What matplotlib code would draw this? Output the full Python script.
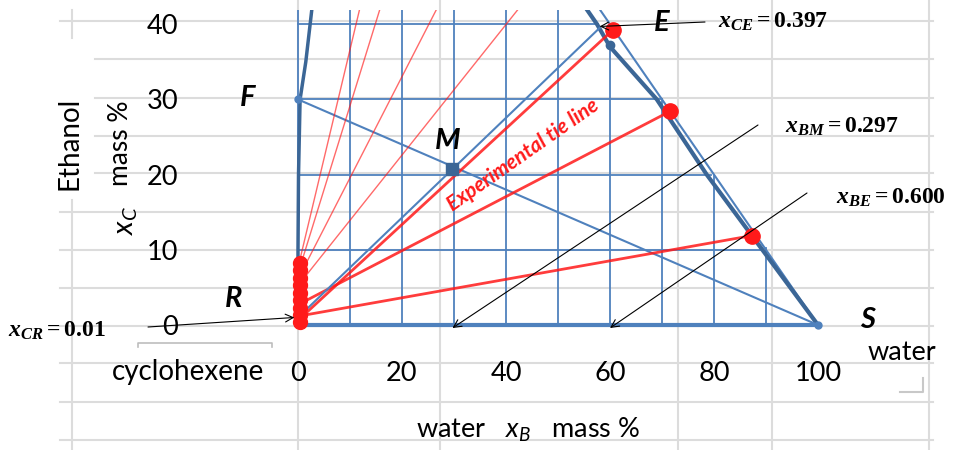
import matplotlib.pyplot as plt
import numpy as np

plt.rcParams['font.family'] = ['Lato', 'DejaVu Sans']
plt.rcParams['mathtext.fontset'] = 'custom'
plt.rcParams['mathtext.rm'] = 'Liberation Serif:bold'
plt.rcParams['mathtext.it'] = 'Liberation Serif:italic:bold'
plt.rcParams['mathtext.bf'] = 'Liberation Serif:bold'
plt.rcParams['mathtext.sf'] = 'Lato:italic'

# ---- data (mass %) ----
x_ticks = [0, 20, 40, 60, 80, 100]
y_ticks = [0, 10, 20, 30, 40]

# blue helper grid inside the triangle
grid_x = [0, 10, 20, 30, 40, 50, 60, 70, 80, 90]
grid_x_top = [44, 44, 44, 44, 44, 44, 37.2, 29.8, 19.8, 10.2]
grid_y = [0, 10, 20, 30, 40]
grid_y_end = [100, 89.5, 79.5, 70, 57.7]

# binodal curve, raffinate side and extract side
raff_x = [0, 0, 0.1, 0.4, 1.5, 3.0]
raff_y = [0, 10, 20, 30, 35, 44]
ext_x = [100, 89.3, 78.6, 69.0, 60.0, 57.5, 53.5]
ext_y = [0, 10, 20, 30, 37, 40, 44]

# hypotenuse x_B + x_C = 100
hyp_x = [100, 56]
hyp_y = [0, 44]

# feed, solvent, mixture, raffinate, extract
F = (0, 30)
S = (100, 0)
M = (29.7, 20.8)
R = (0, 1)
E_calc = (58, 39.5)
E_bin = (60, 37.2)
x_CR, x_BM, x_BE, x_CE = 0.01, 0.297, 0.600, 0.397

# experimental tie lines: raffinate end (x=0) -> extract end
tie_r_y = [8.5, 7.5, 6.5, 5.5, 0.8, 2.8, 1.2]
tie_e_x = [12.2, 16.2, 27.4, 43.5, 60.5, 71.5, 87.4]
tie_e_y = [43, 43, 43, 43, 39.2, 28.4, 11.9]
tie_bold = [False, False, False, False, True, True, True]
raff_pts_y = [0.4, 1.3, 2.3, 3.3, 4.3, 5.3, 6.3, 7.3, 8.3]

blue = '#4f81bd'
dblue = '#3b6696'
red = '#ff1a1a'
W, H = 954, 450

fig = plt.figure(figsize=(W / 100, H / 100), dpi=100)

# spreadsheet cells behind the (transparent) chart
bg = fig.add_axes([0, 0, 1, 1], zorder=0)
bg.set_xlim(0, W)
bg.set_ylim(H, 0)
bg.axis('off')
rows = [21, 59, 98, 136, 173, 212, 250, 288, 326, 363, 402, 440]
row_start = [60, 95, 95, 95, 95, 60, 60, 60, 60, 60, 60, 60]
for r, s in zip(rows, row_start):
    bg.plot([s, 933], [r, r], color='#dcdcdc', lw=1.5)
for c in [298, 440, 678, 772, 929]:
    bg.plot([c, c], [0, H], color='#dcdcdc', lw=1.5)
bg.plot([72, 72], [10, 38], color='#dcdcdc', lw=1.5)
bg.plot([72, 72], [200, H], color='#dcdcdc', lw=1.5)
bg.plot([138, 138, 272, 272], [347, 343, 343, 347], color='#bdbdbd', lw=1.2)
bg.plot([900, 923, 923], [392, 392, 378], color='#c8c8c8', lw=1.5)

ax = fig.add_axes([288 / W, 1 - 332 / H, 540 / W, 322 / H], zorder=1)
ax.set_facecolor('none')
ax.set_xlim(-10 / 5.2, 100 + 10 / 5.2)
ax.set_ylim(-7 / 7.52, 315 / 7.52)
for sp in ax.spines.values():
    sp.set_visible(False)

for gx, top in zip(grid_x, grid_x_top):
    ax.plot([gx, gx], [0, top], color=blue, lw=1.3, zorder=2)
for gy, end in zip(grid_y, grid_y_end):
    ax.plot([0, end], [gy, gy], color=blue, lw=3 if gy == 0 else 1.3, zorder=2)

ax.plot(hyp_x, hyp_y, color=blue, lw=1.5, zorder=3)
ax.plot(ext_x, ext_y, color=dblue, lw=3, zorder=3)
ax.plot(raff_x, raff_y, color=dblue, lw=2.5, zorder=3)

ax.plot([F[0], S[0]], [F[1], S[1]], color=blue, lw=1.5, zorder=3)
ax.plot([R[0], E_calc[0]], [R[1], E_calc[1]], color=blue, lw=1.5, zorder=5)
ax.plot(*F, 'o', color=blue, ms=5, zorder=6)
ax.plot(*S, 'o', color=blue, ms=5, zorder=6)
ax.plot(*M, 's', color=dblue, ms=8, zorder=6)
ax.plot(*E_bin, 'o', color=dblue, ms=6, zorder=6)

for ry, ex, ey, b in zip(tie_r_y, tie_e_x, tie_e_y, tie_bold):
    ax.plot([0.3, ex], [ry, ey], color=red, lw=2 if b else 1,
            alpha=0.85 if b else 0.65, zorder=4)
ax.plot([0.3] * len(raff_pts_y), raff_pts_y, 'o', color=red, ms=10, zorder=5)
ax.plot(tie_e_x[4:], tie_e_y[4:], 'o', color=red, ms=11, zorder=5)

ax.set_xticks(x_ticks)
ax.set_yticks(y_ticks)
ax.tick_params(length=0, labelsize=19.5, colors='black')
ax.tick_params(axis='x', pad=21)
ax.tick_params(axis='y', pad=79)


def fp(x, y):
    return x / W, 1 - y / H


# axis titles and labels
fig.text(*fp(70, 143), 'Ethanol', rotation=90, ha='center', va='center', fontsize=20)
fig.text(*fp(121, 143), 'mass %', rotation=90, ha='center', va='center', fontsize=19)
fig.text(*fp(127, 220), r'$\mathsf{x_C}$', rotation=90, ha='center', va='center', fontsize=21)
fig.text(*fp(528, 430), r'water   $\mathsf{x_B}$   mass %', ha='center', va='center', fontsize=19.5)
fig.text(*fp(188, 372), 'cyclohexene', ha='center', va='center', fontsize=20)
fig.text(*fp(902, 352), 'water', ha='center', va='center', fontsize=19.5)

for lab, (lx, ly) in zip('EFMRS', [(662, 23), (248, 98), (448, 141), (234, 299), (868, 320)]):
    fig.text(*fp(lx, ly), lab, ha='center', va='center', fontsize=21,
             fontweight='bold', fontstyle='italic')

fig.text(*fp(523, 155), 'Experimental tie line', rotation=35, ha='center', va='center',
         fontsize=15, color=red, fontweight='bold', fontstyle='italic', zorder=7)

# value annotations with arrows
notes = [
    (r'$x_{CE} = %.3f$' % x_CE, (718, 22), (E_calc[0], x_CE * 100), (705, 22)),
    (r'$x_{BM} = %.3f$' % x_BM, (785, 127), (x_BM * 100, -0.4), (758, 125)),
    (r'$x_{BE} = %.3f$' % x_BE, (836, 198), (x_BE * 100, -0.4), (807, 193)),
    (r'$x_{CR} = %.2f$' % x_CR, (8, 331), (R[0] - 0.7, x_CR * 100), (148, 327)),
]
for txt, (tx, ty), tip, (sx, sy) in notes:
    fig.text(*fp(tx, ty), txt, ha='left', va='center', fontsize=17)
    ax.annotate('', xy=tip, xycoords='data', xytext=(sx, H - sy),
                textcoords='figure pixels', annotation_clip=False,
                arrowprops=dict(arrowstyle='->', color='black', lw=0.8,
                                shrinkA=0, shrinkB=0, mutation_scale=14),
                zorder=8)

fig.savefig('out.png', dpi=100)
